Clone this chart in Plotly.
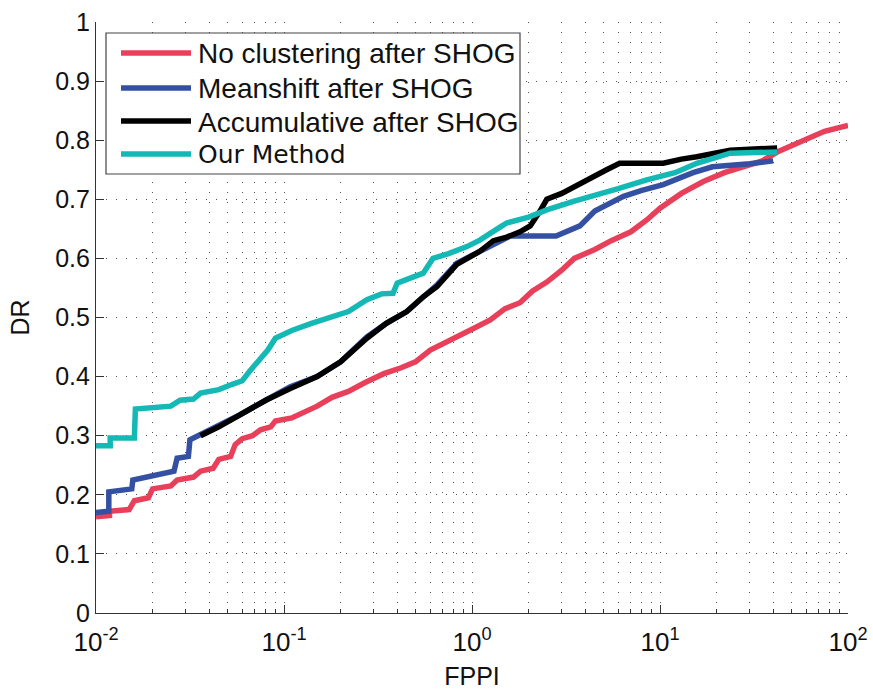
import plotly.graph_objects as go

# ---------------- data ----------------
red_x = [0.01, 0.0118, 0.0118, 0.015, 0.016, 0.019, 0.02, 0.025, 0.027, 0.033, 0.036, 0.042, 0.045,
         0.052, 0.055, 0.06, 0.068, 0.075, 0.085, 0.09, 0.11, 0.13, 0.15, 0.18, 0.22, 0.27, 0.34,
         0.42, 0.5, 0.6, 0.7, 0.85, 1.0, 1.25, 1.5, 1.8, 2.1, 2.5, 3.0, 3.5, 4.5, 5.5, 7, 8.5, 10,
         13, 17, 22, 28, 35, 42, 50, 60, 75, 100]
red_y = [0.163, 0.165, 0.172, 0.175, 0.19, 0.195, 0.21, 0.215, 0.225, 0.23, 0.24, 0.245, 0.26,
         0.265, 0.285, 0.295, 0.3, 0.31, 0.315, 0.325, 0.33, 0.34, 0.35, 0.365, 0.375, 0.39, 0.405,
         0.415, 0.425, 0.445, 0.455, 0.47, 0.48, 0.496, 0.515, 0.525, 0.545, 0.56, 0.58, 0.6, 0.615,
         0.63, 0.645, 0.665, 0.685, 0.71, 0.73, 0.745, 0.755, 0.765, 0.78, 0.79, 0.80, 0.815, 0.825]

blue_x = [0.01, 0.0117, 0.0117, 0.0155, 0.0157, 0.02, 0.026, 0.027, 0.031, 0.0316, 0.035, 0.045,
          0.058, 0.08, 0.108, 0.15, 0.2, 0.276, 0.35, 0.45, 0.55, 0.65, 0.83, 1.0, 1.3, 1.6, 2.8,
          3.75, 4.5, 5.2, 6.4, 8, 10.4, 15, 19, 30, 40]
blue_y = [0.17, 0.172, 0.205, 0.21, 0.225, 0.232, 0.24, 0.262, 0.265, 0.293, 0.3, 0.315,
          0.335, 0.36, 0.383, 0.4, 0.425, 0.467, 0.49, 0.51, 0.535, 0.555, 0.592, 0.605, 0.625,
          0.638, 0.638, 0.655, 0.68, 0.69, 0.705, 0.715, 0.725, 0.745, 0.755, 0.76, 0.765]

black_x = [0.036, 0.045, 0.058, 0.08, 0.108, 0.15, 0.2, 0.276, 0.35, 0.45, 0.55, 0.65, 0.83, 1.0,
           1.1, 1.3, 1.53, 1.8, 2.04, 2.3, 2.5, 3.0, 3.75, 4.5, 5.2, 6.1, 10.4, 13, 15.7, 23.6, 42]
black_y = [0.3, 0.315, 0.335, 0.36, 0.38, 0.4, 0.425, 0.465, 0.49, 0.51, 0.535, 0.552, 0.59, 0.605,
           0.612, 0.63, 0.636, 0.645, 0.655, 0.68, 0.7, 0.71, 0.727, 0.74, 0.75, 0.761, 0.761,
           0.768, 0.772, 0.783, 0.787]

cyan_x = [0.01, 0.0119, 0.0119, 0.016, 0.0162, 0.025, 0.028, 0.033, 0.036, 0.045, 0.053, 0.06,
          0.066, 0.075, 0.082, 0.09, 0.11, 0.14, 0.18, 0.22, 0.276, 0.33, 0.38, 0.4, 0.5, 0.55,
          0.62, 0.75, 0.94, 1.1, 1.41, 1.53, 2.0, 2.5, 3.5, 4.6, 6, 8.5, 12, 15.7, 23.6, 42]
cyan_y = [0.283, 0.283, 0.296, 0.296, 0.345, 0.35, 0.36, 0.362, 0.372, 0.378, 0.387, 0.393,
          0.41, 0.43, 0.445, 0.465, 0.478, 0.49, 0.5, 0.51, 0.53, 0.54, 0.541, 0.558, 0.57, 0.575,
          0.6, 0.608, 0.62, 0.631, 0.653, 0.66, 0.67, 0.682, 0.697, 0.707, 0.718, 0.733, 0.745,
          0.761, 0.778, 0.78]

series_names = ["No clustering after SHOG", "Meanshift after SHOG",
                "Accumulative after SHOG", "Our Method"]
series_colors = ["#E8405A", "#3350A3", "#000000", "#14B8B4"]

x_tickvals = [0.01, 0.1, 1, 10, 100]
x_ticktext = ["10<sup>-2</sup>", "10<sup>-1</sup>", "10<sup>0</sup>", "10<sup>1</sup>", "10<sup>2</sup>"]
y_tickvals = [0, 0.1, 0.2, 0.3, 0.4, 0.5, 0.6, 0.7, 0.8, 0.9, 1]
y_ticktext = ["0", "0.1", "0.2", "0.3", "0.4", "0.5", "0.6", "0.7", "0.8", "0.9", "1"]
minor_vals = [k * 10.0 ** e for e in range(-2, 2) for k in range(2, 10)]

# ---------------- figure ----------------
W, H = 873, 693
L, R, T, B = 96, 25, 22, 80
PW, PH = W - L - R, H - T - B

def px(xp):
    return (xp - L) / PW

def py(yp):
    return (H - B - yp) / PH

fig = go.Figure()
for xs, ys, name, col in zip([red_x, blue_x, black_x, cyan_x], [red_y, blue_y, black_y, cyan_y],
                             series_names, series_colors):
    fig.add_trace(go.Scatter(x=xs, y=ys, mode="lines", name=name,
                             line=dict(color=col, width=5.5), showlegend=False))

grid_dash = "1px,9px"
fig.update_xaxes(type="log", range=[-2, 2], tickmode="array", tickvals=x_tickvals,
                 ticktext=x_ticktext, ticks="inside", ticklen=8, tickcolor="#333",
                 ticklabelstandoff=6, automargin=False,
                 showline=True, linecolor="#333", linewidth=1.2,
                 showgrid=True, gridcolor="#555", gridwidth=1, griddash=grid_dash,
                 zeroline=False,
                 minor=dict(tickmode="array", tickvals=minor_vals, ticks="inside", ticklen=4,
                            tickcolor="#333", showgrid=True, gridcolor="#555",
                            griddash=grid_dash, gridwidth=1),
                 tickfont=dict(family="Liberation Sans", size=26, color="#111"),
                 title=dict(text="FPPI", font=dict(family="Liberation Sans", size=25, color="#111"),
                            standoff=11))
fig.update_yaxes(range=[0, 1], tickmode="array", tickvals=y_tickvals, ticktext=y_ticktext,
                 ticks="inside", ticklen=8, tickcolor="#333", automargin=False,
                 showline=True, linecolor="#333", linewidth=1.2,
                 showgrid=True, gridcolor="#555", gridwidth=1, griddash=grid_dash,
                 zeroline=False,
                 tickfont=dict(family="Liberation Sans", size=25, color="#111"),
                 title=dict(text="DR", font=dict(family="Liberation Sans", size=25, color="#111"),
                            standoff=18))

# ---------------- manual legend ----------------
box = dict(x0=106, x1=520, y0=33, y1=174)
fig.add_shape(type="rect", xref="paper", yref="paper",
              x0=px(box["x0"]), x1=px(box["x1"]), y0=py(box["y0"]), y1=py(box["y1"]),
              fillcolor="white", line=dict(color="#444", width=1.2), layer="above")
row_y = [53, 88, 121, 154]
for i, (name, col) in enumerate(zip(series_names, series_colors)):
    fig.add_shape(type="line", xref="paper", yref="paper",
                  x0=px(121), x1=px(191), y0=py(row_y[i]), y1=py(row_y[i]),
                  line=dict(color=col, width=5.5), layer="above")
    fam = "DejaVu Sans" if name == "Our Method" else "Liberation Sans"
    size = 25 if name == "Our Method" else 28
    fig.add_annotation(x=px(196), y=py(row_y[i] + 1), xref="paper", yref="paper",
                       text=name, showarrow=False, xanchor="left", yanchor="middle",
                       font=dict(family=fam, size=size, color="#111"))

fig.update_layout(width=W, height=H, margin=dict(l=L, r=R, t=T, b=B),
                  plot_bgcolor="white", paper_bgcolor="white", showlegend=False)

fig.write_html("out.html")
